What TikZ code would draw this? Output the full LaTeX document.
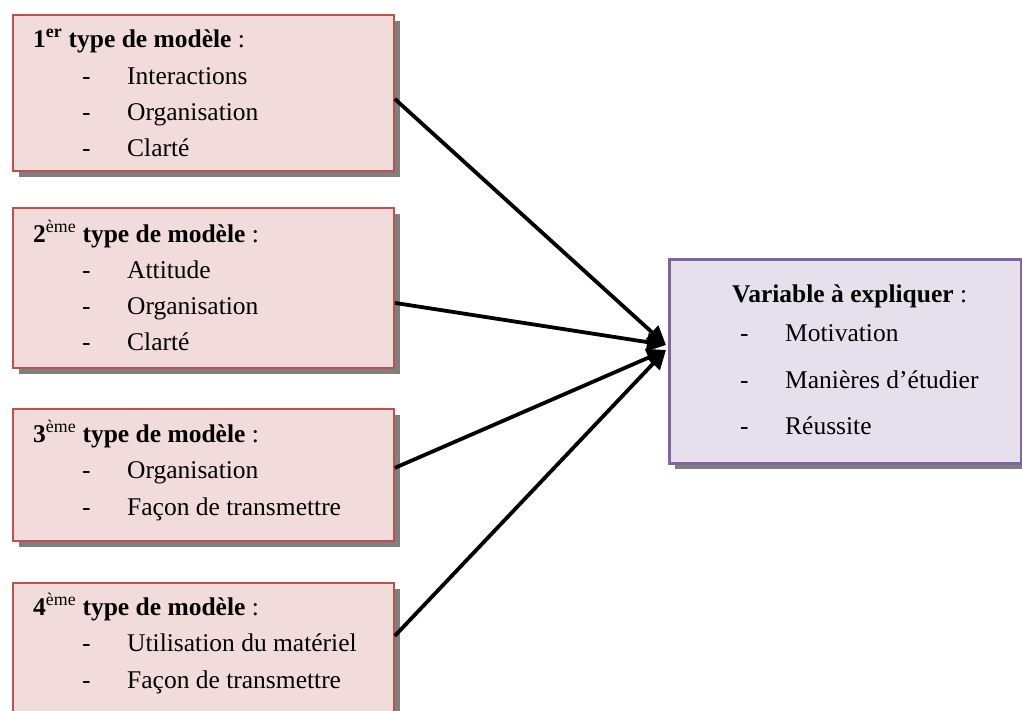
\documentclass[tikz,border=0pt]{standalone}
\usepackage{fontspec}
\setmainfont{Liberation Serif}
\usetikzlibrary{arrows.meta,shadows}
\definecolor{pinkfill}{HTML}{F2DCDB}
\definecolor{redline}{HTML}{C0504D}
\definecolor{purpfill}{HTML}{E5E0EC}
\definecolor{purpline}{HTML}{8064A2}
\definecolor{shad}{HTML}{7F7F7F}
\begin{document}
\begin{tikzpicture}[x=1pt,y=-1pt,
  font=\fontsize{25.5}{30}\selectfont,
  boxshadow/.style={drop shadow={shadow xshift=6pt,shadow yshift=-6pt,fill=shad,opacity=1}},
  modelbox/.style={draw=redline,line width=1.8pt,fill=pinkfill,inner sep=0pt,anchor=north west,minimum width=381pt,boxshadow},
  targetbox/.style={draw=purpline,line width=2.8pt,fill=purpfill,inner sep=0pt,anchor=north west,minimum width=352pt,minimum height=204pt,boxshadow},
  txt/.style={anchor=base west,inner sep=0pt},
  conn/.style={line width=3.8pt,-{Triangle[length=19pt,width=18pt]}}]
\useasboundingbox (0,0) rectangle (1022,710);
\clip (0,0) rectangle (1022,710);
% boxes
\node[modelbox,minimum height=156pt] (b1) at (12,14) {};
\node[modelbox,minimum height=160pt] (b2) at (12,207) {};
\node[modelbox,minimum height=132pt] (b3) at (12,408) {};
\node[modelbox,minimum height=140pt] (b4) at (12,582) {};
\node[targetbox] (bt) at (668,258) {};
% box 1
\node[txt] (h1) at (33,47) {\textbf{1\textsuperscript{er} type de modèle} :};
\node[txt] (d11) at (82,84) {-};  \node[txt] (i11) at (127,84) {Interactions};
\node[txt] (d12) at (82,120) {-}; \node[txt] (i12) at (127,120) {Organisation};
\node[txt] (d13) at (82,156) {-}; \node[txt] (i13) at (127,156) {Clarté};
% box 2
\node[txt] (h2) at (33,242) {\textbf{2\textsuperscript{\normalfont ème} type de modèle} :};
\node[txt] (d21) at (82,278) {-}; \node[txt] (i21) at (127,278) {Attitude};
\node[txt] (d22) at (82,314) {-}; \node[txt] (i22) at (127,314) {Organisation};
\node[txt] (d23) at (82,350) {-}; \node[txt] (i23) at (127,350) {Clarté};
% box 3
\node[txt] (h3) at (33,442) {\textbf{3\textsuperscript{\normalfont ème} type de modèle} :};
\node[txt] (d31) at (82,478) {-}; \node[txt] (i31) at (127,478) {Organisation};
\node[txt] (d32) at (82,515) {-}; \node[txt] (i32) at (127,515) {Façon de transmettre};
% box 4
\node[txt] (h4) at (33,615) {\textbf{4\textsuperscript{\normalfont ème} type de modèle} :};
\node[txt] (d41) at (82,651) {-}; \node[txt] (i41) at (127,651) {Utilisation du matériel};
\node[txt] (d42) at (82,688) {-}; \node[txt] (i42) at (127,688) {Façon de transmettre};
% target box
\node[txt] (ht) at (732,302) {\textbf{Variable à expliquer} :};
\node[txt] (dt1) at (740,341) {-}; \node[txt] (it1) at (785,341) {Motivation};
\node[txt] (dt2) at (740,388) {-}; \node[txt] (it2) at (785,388) {Manières d’étudier};
\node[txt] (dt3) at (740,434) {-}; \node[txt] (it3) at (785,434) {Réussite};
% connectors
\coordinate (t1) at (666,345);
\coordinate (t2) at (666,350);
\draw[conn] ([yshift=-6pt]b1.east) -- (t1);
\draw[conn] ([yshift=-15pt]b2.east) -- (t1);
\draw[conn] ([yshift=7pt]b3.east) -- (t2);
\draw[conn] ([yshift=17pt]b4.east) -- (t2);
\end{tikzpicture}
\end{document}
